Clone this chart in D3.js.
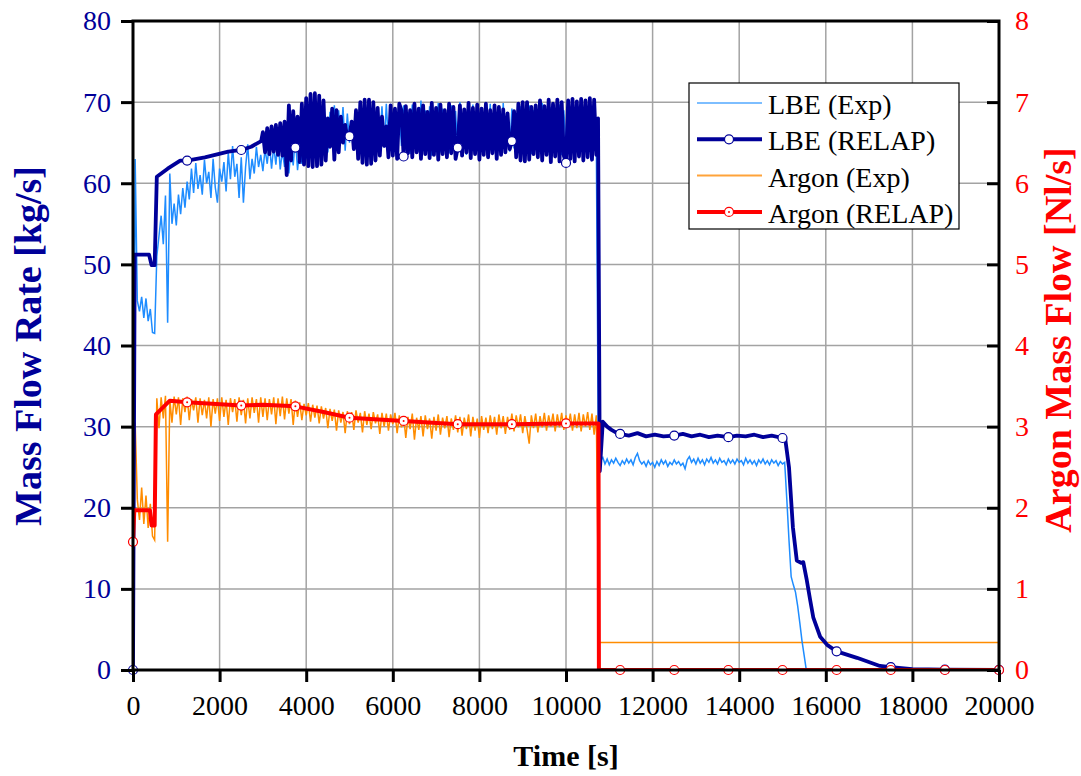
<!DOCTYPE html>
<html lang="en">

<head>
    <meta charset="UTF-8">
    <title>LBE / Argon mass flow</title>
    <style>
        body {
            margin: 0;
            background: #fff;
        }

        svg {
            display: block;
            font-family: "Liberation Serif", "Times New Roman", serif;
        }
    </style>
</head>

<body>
    <svg width="1081" height="776"></svg>

    <script src="https://cdn.jsdelivr.net/npm/d3@7"></script>
    <script>
        // ---- data ----
        var step = 50; // s, spacing of the sampled (dense) series

        // LBE experiment [kg/s], t = 0, 50, 100 ...
        var lbeExp = [
            0, 63.0, 45.5, 44.2, 46.0, 43.4, 45.8, 43.0, 44.5, 41.6,
            41.5, 51.0, 53.5, 56.0, 52.5, 58.5, 42.8, 61.2, 55.0, 57.5,
            54.8, 58.6, 56.2, 59.4, 57.0, 60.2, 58.0, 61.8, 58.8, 62.5,
            59.3, 61.0, 58.6, 62.9, 60.0, 61.4, 58.2, 63.0, 59.5, 57.6,
            61.8, 60.2, 62.6, 59.0, 63.8, 60.5, 64.6, 60.8, 62.4, 58.2,
            63.2, 57.6, 62.0, 64.8, 60.5, 63.0, 61.2, 64.5, 62.0, 63.5,
            61.5, 64.2, 62.4, 65.0, 61.8, 64.6, 62.3, 65.5, 61.7, 64.0,
            62.0, 65.8, 61.2, 64.4, 62.2, 65.8, 61.6, 64.2, 62.4, 66.5,
            63.0, 67.0, 63.5, 68.0, 64.0, 68.5, 63.4, 69.0, 64.2, 68.2,
            63.8, 68.8, 65.0, 69.6, 64.6, 69.0, 65.4, 69.4, 64.0, 68.6,
            65.0, 67.8, 64.6, 68.4, 64.2, 67.5, 63.8, 68.6, 64.5, 67.9,
            63.6, 68.8, 64.8, 69.2, 65.2, 69.5, 64.4, 69.8, 65.0, 68.9,
            64.2, 69.4, 63.8, 68.6, 64.6, 69.6, 64.0, 68.8, 63.6, 69.7,
            64.4, 68.4, 63.9, 70.2, 64.8, 69.0, 64.0, 69.5, 63.4, 68.7,
            64.6, 69.9, 63.8, 69.2, 64.3, 68.5, 63.7, 69.6, 64.5, 68.9,
            63.9, 70.0, 64.2, 69.1, 63.5, 68.6, 64.8, 69.7, 64.0, 68.8,
            63.6, 69.4, 64.4, 68.5, 63.8, 69.8, 64.6, 68.9, 64.1, 69.3,
            63.5, 69.9, 64.7, 68.7, 63.9, 69.2, 64.3, 68.6, 63.7, 69.5,
            64.5, 68.8, 64.0, 69.6, 63.6, 69.0, 64.4, 68.5, 63.9, 69.9,
            64.2, 68.7, 63.8, 69.4, 64.6, 68.9, 64.0, 69.7, 63.5, 69.0,
            64.3, 68.6, 63.7, 69.8, 64.5, 69.1, 63.9, 69.5, 64.2, 68.8,
            63.6, 69.9, 64.4, 69.2, 65.0, 25.4, 25.8, 26.2, 25.4, 26.0,
            25.3, 25.9, 25.5, 26.1, 25.6, 25.2, 25.8, 25.4, 26.0, 25.5,
            25.9, 25.3, 26.2, 26.7, 25.8, 25.4, 25.7, 25.1, 25.8, 25.3,
            25.6, 25.0, 25.7, 25.2, 25.9, 25.4, 25.8, 25.1, 25.6, 25.3,
            25.9, 25.4, 25.7, 25.2, 25.5, 24.8, 25.9, 26.3, 25.6, 26.0,
            25.4, 26.1, 25.5, 25.9, 25.3, 26.0, 25.6, 26.2, 25.5, 25.9,
            25.4, 26.1, 25.6, 25.8, 25.3, 26.0, 25.5, 25.9, 25.4, 26.0,
            25.6, 25.8, 25.3, 26.1, 25.5, 25.9, 25.4, 25.8, 25.2, 25.9,
            25.5, 26.0, 25.4, 25.8, 25.3, 25.9, 25.5, 25.8, 25.2, 25.7,
            25.4, 25.6, 21.0, 16.0, 11.5, 10.5, 9.6, 7.9, 5.8, 3.6,
            1.8, 0.0
        ];

        // LBE RELAP [kg/s]: start-up part, oscillating part (t = 3000 + i*50), end part
        var lbeRelapHeadT = [0, 40, 370, 430, 500, 550, 800, 1090, 1250, 1660, 2200, 2500, 2730, 2960];
        var lbeRelapHeadV = [0, 51.2, 51.2, 49.9, 49.9, 60.8, 61.8, 62.8, 62.8, 63.2, 63.9, 64.1, 64.5, 65.2];
        var lbeRelapOscStart = 3000;
        var lbeRelapOsc = [
            66.3, 63.8, 66.8, 63.6, 67.0, 63.9, 67.2, 63.5, 67.4, 63.4,
            67.6, 61.0, 69.6, 62.8, 68.9, 64.4, 68.2, 62.6, 69.8, 62.3,
            70.5, 62.1, 71.0, 62.0, 71.1, 62.1, 70.8, 62.3, 70.2, 62.8,
            68.0, 64.5, 69.2, 62.9, 69.0, 63.8, 68.2, 65.0, 67.2, 65.6,
            65.8, 67.6, 64.2, 69.0, 63.0, 70.0, 62.5, 70.3, 62.3, 70.3,
            62.4, 70.0, 62.8, 69.3, 63.4, 68.2, 64.6, 67.0, 63.2, 69.6,
            63.4, 69.2, 63.0, 69.8, 69.0, 63.3, 69.5, 63.7, 69.0, 63.2,
            69.8, 63.8, 69.2, 63.0, 69.6, 63.6, 68.8, 63.1, 69.9, 63.5,
            69.3, 62.9, 69.7, 63.6, 69.0, 63.2, 69.8, 63.7, 69.4, 63.0,
            64.4, 69.6, 63.4, 69.1, 63.8, 69.9, 63.1, 69.3, 63.6, 69.7,
            62.9, 69.2, 63.5, 69.8, 63.2, 69.0, 63.7, 69.6, 63.0, 69.4,
            63.5, 69.1, 63.8, 68.6, 64.2, 65.2, 68.9, 63.2, 69.8, 62.8,
            70.0, 62.7, 70.0, 62.9, 69.4, 63.6, 69.6, 63.2, 70.2, 62.8,
            69.5, 63.5, 70.3, 62.6, 69.8, 63.3, 70.3, 62.7, 70.0, 63.4,
            62.5, 70.2, 63.0, 70.4, 62.7, 70.1, 63.3, 70.4, 62.8, 70.2,
            63.2, 70.5, 62.9, 70.3, 63.5
        ];
        var lbeRelapTailT = [10740, 10780, 10850, 10950, 11050, 11150, 11250, 11450, 11650, 11850, 12050, 12250, 12500, 12700,
            12900, 13100, 13300, 13500, 13750, 13950, 14150, 14350, 14550, 14750, 15000, 15060, 15150, 15240, 15330, 15430,
            15480, 15560, 15640, 15710, 15870, 16030, 16250, 16720, 17250, 17500, 18000, 18750, 20000];
        var lbeRelapTailV = [68.0, 24.5, 30.6, 30.0, 29.6, 29.3, 29.1, 28.9, 29.2, 28.8, 29.0, 28.8, 28.9, 29.1,
            28.8, 29.0, 28.7, 28.9, 28.7, 28.9, 28.8, 29.0, 28.7, 28.9, 28.6, 28.6, 25.0, 17.6, 13.5, 13.2,
            13.3, 11.1, 8.6, 6.5, 4.1, 3.1, 2.3, 1.5, 0.5, 0.35, 0.12, 0.05, 0.02];

        // Argon experiment [Nl/s], t = 0, 50, 100 ... then a flat tail
        var argonExp = [
            1.45, 3.05, 2.10, 1.85, 2.25, 1.80, 2.15, 1.75, 2.05, 1.65,
            1.60, 3.35, 2.98, 3.36, 3.10, 3.38, 1.58, 3.34, 3.05, 3.37,
            3.15, 3.36, 3.02, 3.35, 3.18, 3.37, 3.08, 3.34, 3.20, 3.36,
            3.05, 3.35, 3.14, 3.33, 3.10, 3.36, 3.00, 3.34, 3.16, 3.35,
            3.07, 3.36, 3.12, 3.33, 3.02, 3.35, 3.18, 3.34, 3.06, 3.36,
            3.14, 3.33, 3.04, 3.35, 3.10, 3.36, 3.17, 3.34, 3.05, 3.36,
            3.12, 3.35, 3.08, 3.34, 3.15, 3.36, 3.03, 3.35, 3.13, 3.37,
            3.09, 3.35, 3.16, 3.34, 3.02, 3.32, 3.12, 3.30, 3.08, 3.28,
            3.14, 3.29, 3.06, 3.27, 3.11, 3.26, 3.04, 3.25, 3.10, 3.23,
            2.98, 3.22, 3.07, 3.21, 2.95, 3.20, 3.05, 3.18, 2.92, 3.19,
            3.03, 3.18, 2.96, 3.20, 3.05, 3.17, 2.93, 3.19, 3.02, 3.16,
            2.97, 3.18, 3.04, 3.15, 2.91, 3.17, 3.00, 3.16, 2.95, 3.15,
            3.03, 3.17, 2.92, 3.14, 2.99, 3.13, 2.86, 3.12, 2.97, 3.16,
            2.84, 3.11, 2.96, 3.13, 2.88, 3.14, 2.97, 3.10, 2.85, 3.12,
            2.95, 3.15, 2.90, 3.11, 2.98, 3.13, 2.87, 3.10, 2.96, 3.14,
            2.93, 3.12, 2.89, 3.11, 2.97, 3.15, 2.88, 3.12, 2.95, 3.10,
            2.86, 3.13, 2.96, 3.11, 2.92, 3.14, 2.97, 3.12, 2.90, 3.15,
            2.98, 3.13, 2.91, 3.12, 2.96, 3.16, 2.94, 3.14, 2.99, 3.15,
            2.92, 3.13, 2.97, 2.79, 3.14, 2.98, 3.16, 2.93, 3.13, 2.99,
            3.17, 2.95, 3.14, 3.00, 3.16, 2.94, 3.15, 2.99, 3.17, 2.96,
            3.14, 3.00, 3.16, 2.95, 3.15, 2.98, 3.17, 2.94, 3.15, 3.00,
            3.18, 2.96, 3.16, 2.90, 3.14
        ];
        var argonExpTailT = [10760, 20000];
        var argonExpTailV = [0.34, 0.34];

        // Argon RELAP [Nl/s]
        var argonRelapT = [0, 30, 390, 430, 500, 530, 850, 1250, 2500, 3000, 3750, 4400, 5000, 6250, 7500, 8750, 10000,
            10750, 10760, 11250, 12500, 13750, 15000, 16250, 17500, 18750, 20000];
        var argonRelapV = [1.58, 1.97, 1.97, 1.78, 1.78, 3.15, 3.32, 3.30, 3.26, 3.27, 3.25, 3.18, 3.11, 3.07, 3.03, 3.03, 3.04,
            3.04, 0, 0, 0, 0, 0, 0, 0, 0, 0];

        var markerEvery = 1250; // s, symbols on the RELAP curves

        var xTicks = [0, 2000, 4000, 6000, 8000, 10000, 12000, 14000, 16000, 18000, 20000];
        var yTicks = [0, 10, 20, 30, 40, 50, 60, 70, 80];
        var y2Ticks = [0, 1, 2, 3, 4, 5, 6, 7, 8];

        var legendNames = ['LBE (Exp)', 'LBE (RELAP)', 'Argon (Exp)', 'Argon (RELAP)'];

        // ---- build point lists ----
        function sampled(vals, t0) {
            return vals.map(function (v, i) { return [t0 + i * step, v]; });
        }
        function paired(ts, vs) {
            return ts.map(function (t, i) { return [t, vs[i]]; });
        }

        var lbeExpPts = sampled(lbeExp, 0);
        var lbeRelapPts = paired(lbeRelapHeadT, lbeRelapHeadV)
            .concat(sampled(lbeRelapOsc, lbeRelapOscStart))
            .concat(paired(lbeRelapTailT, lbeRelapTailV));
        var argonExpPts = sampled(argonExp, 0).concat(paired(argonExpTailT, argonExpTailV));
        var argonRelapPts = paired(argonRelapT, argonRelapV);

        // ---- layout ----
        var navy = '#000099', lightBlue = '#1E8CFF', orange = '#FF8C00', red = '#FF0000';
        var svg = d3.select('svg');
        // plot box (do not call these top/left: window.top is read-only)
        var pL = 133, pR = 999, pT = 21, pB = 670;

        var x = d3.scaleLinear().domain([0, 20000]).range([pL, pR]);
        var y = d3.scaleLinear().domain([0, 80]).range([pB, pT]);
        var y2 = d3.scaleLinear().domain([0, 8]).range([pB, pT]);

        // grid
        var grid = svg.append('g').attr('stroke', '#a3a3a3').attr('stroke-width', 1.5);
        grid.selectAll('.gx').data(xTicks.slice(1, -1)).enter().append('line')
            .attr('x1', x).attr('x2', x).attr('y1', pT).attr('y2', pB);
        grid.selectAll('.gy').data(yTicks.slice(1, -1)).enter().append('line')
            .attr('y1', y).attr('y2', y).attr('x1', pL).attr('x2', pR);

        // clip for the curves
        svg.append('clipPath').attr('id', 'plot').append('rect')
            .attr('x', pL).attr('y', pT).attr('width', pR - pL).attr('height', pB - pT);
        var plot = svg.append('g').attr('clip-path', 'url(#plot)');

        var lineL = d3.line().x(function (d) { return x(d[0]); }).y(function (d) { return y(d[1]); });
        var lineR = d3.line().x(function (d) { return x(d[0]); }).y(function (d) { return y2(d[1]); });

        plot.append('path').datum(argonExpPts).attr('d', lineR)
            .attr('fill', 'none').attr('stroke', orange).attr('stroke-width', 1.5);
        plot.append('path').datum(lbeExpPts).attr('d', lineL)
            .attr('fill', 'none').attr('stroke', lightBlue).attr('stroke-width', 1.5);
        plot.append('path').datum(lbeRelapPts).attr('d', lineL)
            .attr('fill', 'none').attr('stroke', navy).attr('stroke-width', 3.8).attr('stroke-linejoin', 'round');
        plot.append('path').datum(argonRelapPts).attr('d', lineR)
            .attr('fill', 'none').attr('stroke', red).attr('stroke-width', 4).attr('stroke-linejoin', 'round');

        // symbols
        function isMark(d) { return d[0] % markerEvery === 0; }
        svg.append('g').selectAll('circle').data(lbeRelapPts.filter(isMark)).enter().append('circle')
            .attr('cx', function (d) { return x(d[0]); }).attr('cy', function (d) { return y(d[1]); })
            .attr('r', 4.5).attr('fill', '#fff').attr('stroke', navy).attr('stroke-width', 1.2);
        var am = svg.append('g').selectAll('g').data(argonRelapPts.filter(isMark)).enter().append('g')
            .attr('transform', function (d) { return 'translate(' + x(d[0]) + ',' + y2(d[1]) + ')'; });
        am.append('circle').attr('r', 4.5).attr('fill', '#fff').attr('stroke', red).attr('stroke-width', 1.2);
        am.append('circle').attr('r', 1).attr('fill', red);

        // axes
        var fs = 28;
        var axB = svg.append('g').attr('transform', 'translate(0,' + pB + ')')
            .call(d3.axisBottom(x).tickValues(xTicks).tickSize(12).tickPadding(13).tickFormat(d3.format('d')));
        var axL = svg.append('g').attr('transform', 'translate(' + pL + ',0)')
            .call(d3.axisLeft(y).tickValues(yTicks).tickSize(12).tickPadding(10));
        var axR = svg.append('g').attr('transform', 'translate(' + pR + ',0)')
            .call(d3.axisRight(y2).tickValues(y2Ticks).tickSizeInner(-12).tickSizeOuter(0).tickPadding(16));

        [axB, axL, axR].forEach(function (a) {
            a.select('.domain').remove();
            a.selectAll('line').attr('stroke', '#000').attr('stroke-width', 3);
            a.selectAll('text').attr('font-family', '"Liberation Serif", serif').attr('font-size', fs);
        });
        axB.selectAll('text').attr('fill', '#000');
        axL.selectAll('text').attr('fill', navy);
        axR.selectAll('text').attr('fill', red);

        // frame
        svg.append('rect').attr('x', pL).attr('y', pT).attr('width', pR - pL).attr('height', pB - pT)
            .attr('fill', 'none').attr('stroke', '#000').attr('stroke-width', 3);

        // axis titles
        svg.append('text').attr('x', (pL + pR) / 2).attr('y', 766).attr('text-anchor', 'middle')
            .attr('font-size', 30).attr('font-weight', 'bold').attr('fill', '#000').text('Time [s]');
        svg.append('text').attr('transform', 'translate(41,' + 346 + ') rotate(-90)')
            .attr('text-anchor', 'middle').attr('font-size', 38).attr('font-weight', 'bold').attr('fill', navy)
            .text('Mass Flow Rate [kg/s]');
        svg.append('text').attr('transform', 'translate(1071,' + 340 + ') rotate(-90)')
            .attr('text-anchor', 'middle').attr('font-size', 38).attr('font-weight', 'bold').attr('fill', red)
            .text('Argon Mass Flow [Nl/s]');

        // legend
        var lg = svg.append('g').attr('transform', 'translate(689,83)');
        lg.append('rect').attr('width', 270).attr('height', 146).attr('fill', '#fff')
            .attr('stroke', '#000').attr('stroke-width', 1.2);
        var legendStyle = {
            'LBE (Exp)': { c: '#7DBEFF', w: 2, mark: null },
            'LBE (RELAP)': { c: navy, w: 4, mark: navy },
            'Argon (Exp)': { c: '#FFA33A', w: 2, mark: null },
            'Argon (RELAP)': { c: red, w: 4, mark: red }
        };
        var rows = lg.selectAll('.row').data(legendNames).enter().append('g')
            .attr('transform', function (d, i) { return 'translate(0,' + (20 + i * 36.3) + ')'; });
        rows.append('line').attr('x1', 8).attr('x2', 73)
            .attr('stroke', function (d) { return legendStyle[d].c; })
            .attr('stroke-width', function (d) { return legendStyle[d].w; });
        rows.filter(function (d) { return legendStyle[d].mark; }).append('circle')
            .attr('cx', 40).attr('r', 4.5).attr('fill', '#fff')
            .attr('stroke', function (d) { return legendStyle[d].mark; }).attr('stroke-width', 1.2);
        rows.filter(function (d) { return d === 'Argon (RELAP)'; }).append('circle')
            .attr('cx', 40).attr('r', 1).attr('fill', red);
        rows.append('text').attr('x', 79).attr('y', 11).attr('font-size', 28).attr('fill', '#000')
            .text(function (d) { return d; });
    </script>
</body>

</html>
